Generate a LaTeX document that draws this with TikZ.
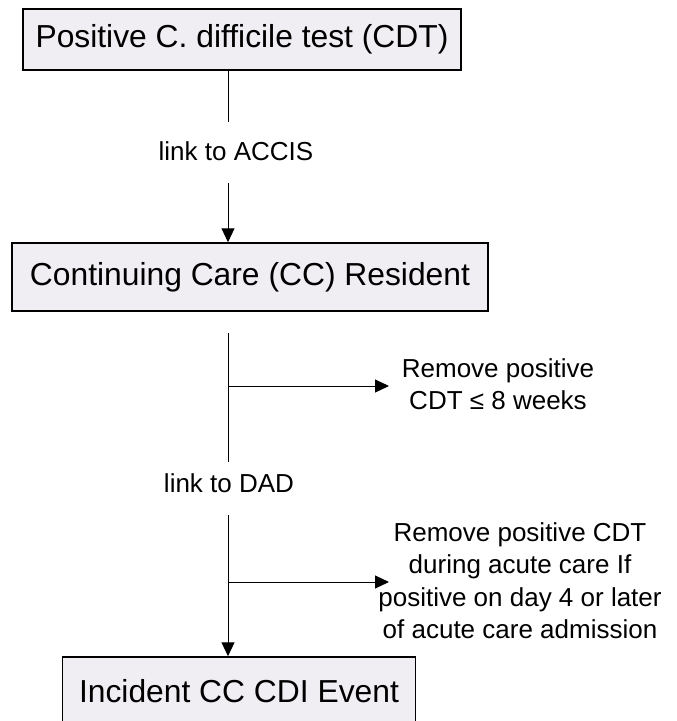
\documentclass[tikz,border=0pt]{standalone}
\usepackage{fontspec}
\setmainfont{Liberation Sans}
\usetikzlibrary{arrows.meta}
\definecolor{boxfill}{RGB}{240,238,243}
\begin{document}
\begin{tikzpicture}[x=1pt,y=-1pt,
  box/.style={draw=black, line width=1.5pt, fill=boxfill, inner sep=0pt, font=\fontsize{31.8}{38}\selectfont},
  lbl/.style={inner sep=0pt, font=\fontsize{26}{32.5}\selectfont, align=center},
  conn/.style={line width=1pt, draw=black},
  arr/.style={conn, -{Triangle[length=14pt,width=13pt]}}]
\useasboundingbox (0,0) rectangle (677,721);
\node[box, minimum width=438pt, minimum height=61pt] (b1) at (242,39.5) {Positive C. difficile test (CDT)};
\node[box, minimum width=476pt, minimum height=68pt] (b2) at (250,277) {Continuing Care (CC) Resident};
\node[box, minimum width=353pt, minimum height=68pt] (b3) at (239,691) {Incident CC CDI Event};
% first link
\coordinate (s1) at (228,122);
\node[lbl, anchor=base] (la1) at (236,160) {link to ACCIS};
\draw[conn] (b1.south -| s1) -- (s1);
\coordinate (s2) at (228,183);
\draw[arr] (s2) -- (s2 |- b2.north);
% second segment
\coordinate (s3) at (228,333);
\coordinate (s4) at (228,462);
\draw[conn] (s3) -- (s4);
\coordinate (br1) at (228,386);
\coordinate (t1) at (389,386);
\draw[arr] (br1) -- (t1);
\node[lbl, anchor=north] (r1) at (498,358.4) {Remove positive\\CDT ≤ 8 weeks};
\node[lbl, anchor=base] (la2) at (229,492) {link to DAD};
% third segment
\coordinate (s5) at (228,515);
\draw[arr] (s5) -- (s5 |- b3.north);
\coordinate (br2) at (228,582);
\coordinate (t2) at (389,582);
\draw[arr] (br2) -- (t2);
\node[lbl, anchor=north] (r2) at (520,522.4) {Remove positive CDT\\during acute care If\\positive on day 4 or later\\of acute care admission};
\end{tikzpicture}
\end{document}
